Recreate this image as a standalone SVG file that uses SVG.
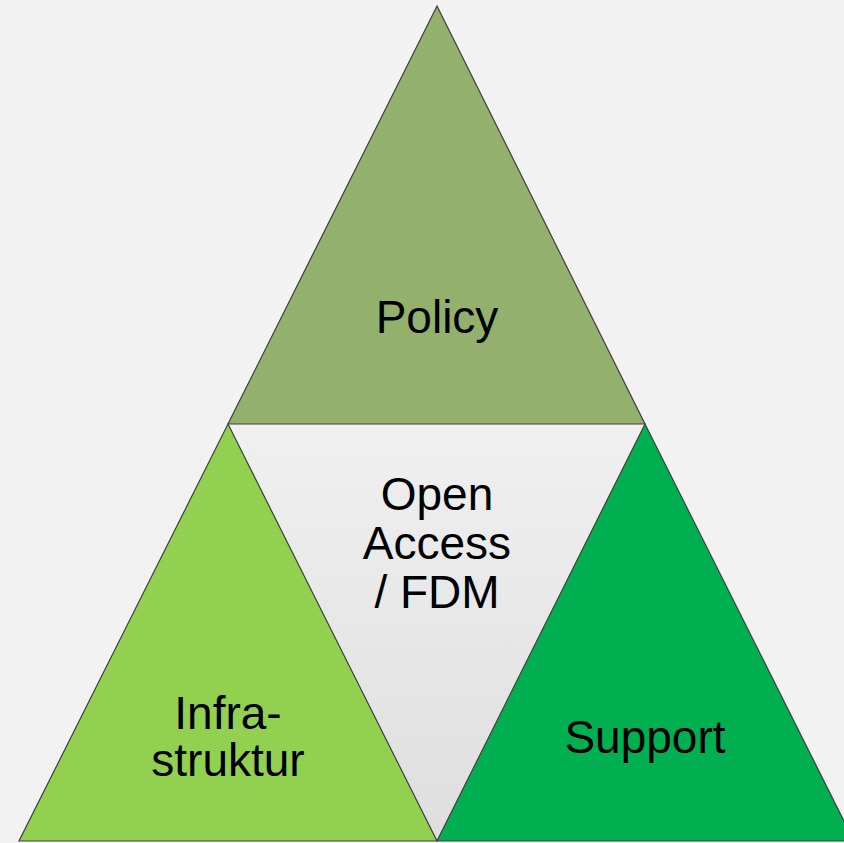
<svg xmlns="http://www.w3.org/2000/svg" width="844" height="843" viewBox="0 0 844 843">
  <style>
    .tri { stroke: #3f3f3f; stroke-width: 1.2; stroke-linejoin: miter; }
    .lbl { font-family: "Liberation Sans", Arial, sans-serif; font-size: 46px; fill: #000; text-anchor: middle; }
  </style>
  <defs>
    <linearGradient id="centerFill" x1="0" y1="0" x2="0" y2="1">
      <stop offset="0" stop-color="#f0f0f0"/>
      <stop offset="1" stop-color="#dedede"/>
    </linearGradient>
  </defs>
  <rect width="844" height="843" fill="#f2f2f2"/>

  <g id="center">
    <polygon points="228,424 645,424 437,841" fill="url(#centerFill)"/>
    <text class="lbl" x="437" y="510">Open</text>
    <text class="lbl" x="437" y="559">Access</text>
    <text class="lbl" x="437" y="608">/ FDM</text>
  </g>

  <g id="policy">
    <polygon class="tri" points="437,6 645,424 228,424" fill="#93b06c"/>
    <text class="lbl" x="437" y="333">Policy</text>
  </g>

  <g id="infrastruktur">
    <polygon class="tri" points="228,424 437,841 19,841" fill="#92d050"/>
    <text class="lbl" x="228" y="729">Infra-</text>
    <text class="lbl" x="228" y="776">struktur</text>
  </g>

  <g id="support">
    <polygon class="tri" points="645,424 854,841 437,841" fill="#00b050"/>
    <text class="lbl" x="645" y="753">Support</text>
  </g>

  <g id="connectors"/>
</svg>
